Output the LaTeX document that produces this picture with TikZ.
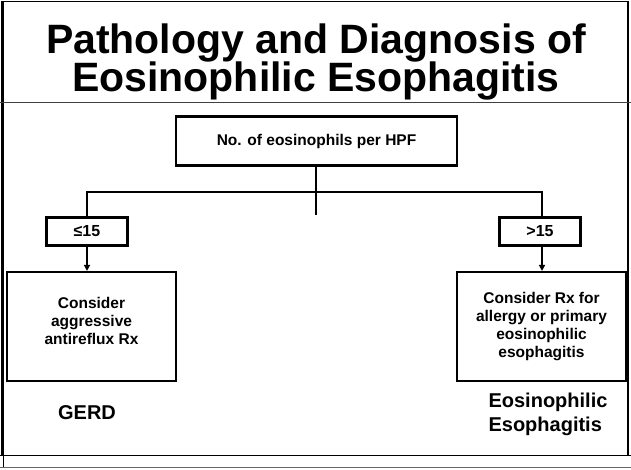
\documentclass[tikz,border=0pt]{standalone}
\usepackage{fontspec}
\setmainfont{Liberation Sans}
\usetikzlibrary{arrows.meta}
\begin{document}
\begin{tikzpicture}[x=1pt,y=-1pt,
  box/.style={draw=black,line width=2.2pt,inner sep=0pt,align=center,font=\bfseries\fontsize{15.5}{18}\selectfont},
  lbl/.style={font=\bfseries\fontsize{16}{18}\selectfont},
  conn/.style={line width=2.2pt},
  arr/.style={line width=1.6pt,-{Triangle[length=6pt,width=6pt]}},
  frame/.style={line width=1.6pt},
  title/.style={anchor=base,font=\bfseries\fontsize{41}{36}\selectfont},
  big/.style={font=\bfseries\fontsize{20}{24}\selectfont}]
\useasboundingbox (0,0) rectangle (631,469);
% frame
\draw[frame] (1.5,1.5) -- (629,1.5);
\draw[line width=2.6pt] (2.5,1) -- (2.5,455);
\draw[frame] (628,1) -- (628,455);
\draw[line width=1.5pt,black!75] (0,102.5) -- (631,102.5);
\draw[line width=1pt] (0,455) -- (631,455);
\draw[line width=1.5pt,black!60] (0,467.5) -- (631,467.5);
\draw[line width=0.8pt] (3,455) -- (3,467);
% title
\node[title] (t1) at (316,53) {Pathology and Diagnosis of};
\node[title] (t2) at (316,91) {Eosinophilic Esophagitis};
% boxes
\node[box,minimum width=281pt,minimum height=49pt] (top) at (316.5,141) {No. of eosinophils per HPF};
\node[box,lbl,minimum width=81pt,minimum height=28pt] (le) at (87,231.5) {≤15};
\node[box,lbl,minimum width=81pt,minimum height=28pt] (gt) at (540,231.5) {>15};
\node[box,minimum width=169pt,minimum height=109pt] (lb) at (91.5,326.5) {Consider\\aggressive\\antireflux Rx\\[-6pt]};
\node[box,minimum width=169pt,minimum height=109pt] (rb) at (541.5,326.5) {Consider Rx for\\allergy or primary\\eosinophilic\\esophagitis};
% labels
\node[anchor=base,big] (gerd) at (87,419) {GERD};
\node[anchor=base west,big] (ee1) at (485,407) {Eosinophilic};
\node[anchor=base west,big] (ee2) at (485,431) {Esophagitis};
% connectors
\coordinate (stub) at (316,215);
\coordinate (jL) at (87,192);
\coordinate (jR) at (542,192);
\draw[conn] (top.south -| stub) -- (stub);
\draw[conn] (le.north -| jL) -- (jL) -- (jR) -- (gt.north -| jR);
\draw[arr] (le.south) -- (le.south |- lb.north);
\draw[arr] (gt.south -| jR) -- (jR |- rb.north);
\end{tikzpicture}
\end{document}
